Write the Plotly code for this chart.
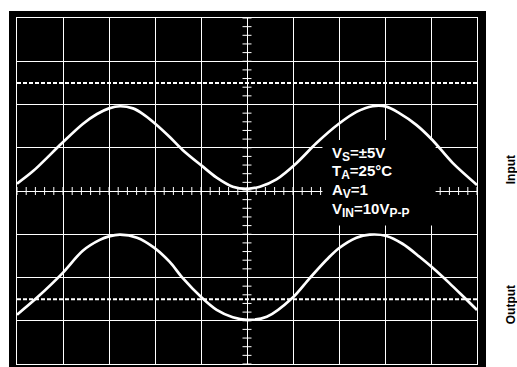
import numpy as np
import plotly.graph_objects as go

# Screen positions in graticule divisions (10 horizontal x 8 vertical, centre = 0,0)
input_x = [-5.00, -4.65, -4.02, -3.57, -3.26, -3.00, -2.76, -2.48, -2.26, -2.02,
           -1.68, -1.40, -0.98, -0.66, -0.31, 0.00, 0.28, 0.64, 1.08, 1.51,
           1.99, 2.38, 2.73, 3.03, 3.31, 3.68, 4.03, 4.47, 5.00]
input_y = [0.17, 0.46, 1.11, 1.55, 1.78, 1.91, 1.96, 1.91, 1.78, 1.58,
           1.25, 0.95, 0.58, 0.31, 0.10, 0.05, 0.10, 0.27, 0.65, 1.11,
           1.55, 1.83, 1.96, 1.95, 1.80, 1.53, 1.18, 0.65, 0.14]

output_x = [-5.00, -4.57, -4.02, -3.57, -3.20, -3.00, -2.76, -2.39, -2.02, -1.68,
            -1.40, -0.98, -0.66, -0.31, 0.00, 0.43, 0.99, 1.36, 1.73, 1.99,
            2.38, 2.67, 3.03, 3.38, 3.75, 4.03, 4.40, 4.73, 5.00]
output_y = [-2.86, -2.47, -1.91, -1.38, -1.13, -1.05, -1.01, -1.08, -1.31, -1.64,
            -2.01, -2.47, -2.75, -2.92, -2.98, -2.91, -2.47, -2.02, -1.59, -1.33,
            -1.08, -1.01, -1.04, -1.22, -1.52, -1.77, -2.13, -2.47, -2.75]

ref_levels = [2.5, -2.5]          # dotted reference lines
SUB = '<sub><span style="font-size:12px">{}</span></sub>'
condition_lines = ["V" + SUB.format("S") + "=±5V",
                   "T" + SUB.format("A") + "=25°C",
                   "A" + SUB.format("V") + "=1",
                   "V" + SUB.format("IN") + "=10V" + SUB.format("P-P")]
channel_labels = ["Input", "Output"]

fig = go.Figure()

for xs, ys in [(input_x, input_y), (output_x, output_y)]:
    fig.add_trace(go.Scatter(x=xs, y=ys, mode="lines",
                             line=dict(color="white", width=2.7, shape="spline", smoothing=0.9),
                             hoverinfo="skip", showlegend=False))

shapes = []
# black bezel around the screen
shapes.append(dict(type="rect", xref="paper", yref="paper",
                   x0=-8 / 460, x1=1 + 9 / 460, y0=-4 / 346, y1=1 + 7 / 346,
                   fillcolor="black", line=dict(width=0), layer="below"))

# minor ticks on the centre crosshair
for xv in np.arange(-5, 5.001, 0.2):
    shapes.append(dict(type="line", xref="x", yref="y", ysizemode="pixel", yanchor=0,
                       x0=xv, x1=xv, y0=-4, y1=4,
                       line=dict(color="white", width=1), layer="between"))
for yv in np.arange(-4, 4.001, 0.2):
    shapes.append(dict(type="line", xref="x", yref="y", xsizemode="pixel", xanchor=0,
                       x0=-4.5, x1=4.5, y0=yv, y1=yv,
                       line=dict(color="white", width=1), layer="between"))

# dotted reference levels
for lv in ref_levels:
    shapes.append(dict(type="line", xref="x", yref="y", x0=-5, x1=5, y0=lv, y1=lv,
                       line=dict(color="white", width=2, dash="4px,2px"), layer="between"))

# blank panel behind the test conditions
shapes.append(dict(type="rect", xref="x", yref="y", x0=1.64, x1=4.10, y0=-0.80, y1=1.18,
                   fillcolor="black", line=dict(width=0), layer="between"))

annotations = []
for i, txt in enumerate(condition_lines):
    annotations.append(dict(x=1.80, y=0.86 - 0.43 * i, xref="x", yref="y",
                            text=txt, showarrow=False, xanchor="left", yanchor="middle",
                            font=dict(family="Liberation Sans, Arial", size=15, color="white",
                                      weight="bold")))
for txt, yp in zip(channel_labels, [0.56, 0.17]):
    annotations.append(dict(x=1.074, y=yp, xref="paper", yref="paper", text=txt,
                            showarrow=False, textangle=-90, xanchor="center", yanchor="middle",
                            font=dict(family="Liberation Sans, Arial", size=12, color="black",
                                      weight="bold")))

axis_common = dict(showgrid=True, gridcolor="white", gridwidth=1,
                   zeroline=True, zerolinecolor="white", zerolinewidth=1,
                   showline=True, linecolor="white", linewidth=1, mirror=True,
                   showticklabels=False, ticks="", dtick=1, fixedrange=True)

fig.update_layout(
    width=517, height=367,
    margin=dict(l=17, r=40, t=18, b=3, pad=0),
    paper_bgcolor="white", plot_bgcolor="black",
    xaxis=dict(range=[-5, 5], tick0=-5, **axis_common),
    yaxis=dict(range=[-4, 4], tick0=-4, **axis_common),
    shapes=shapes, annotations=annotations,
)

fig.write_html("out.html")
